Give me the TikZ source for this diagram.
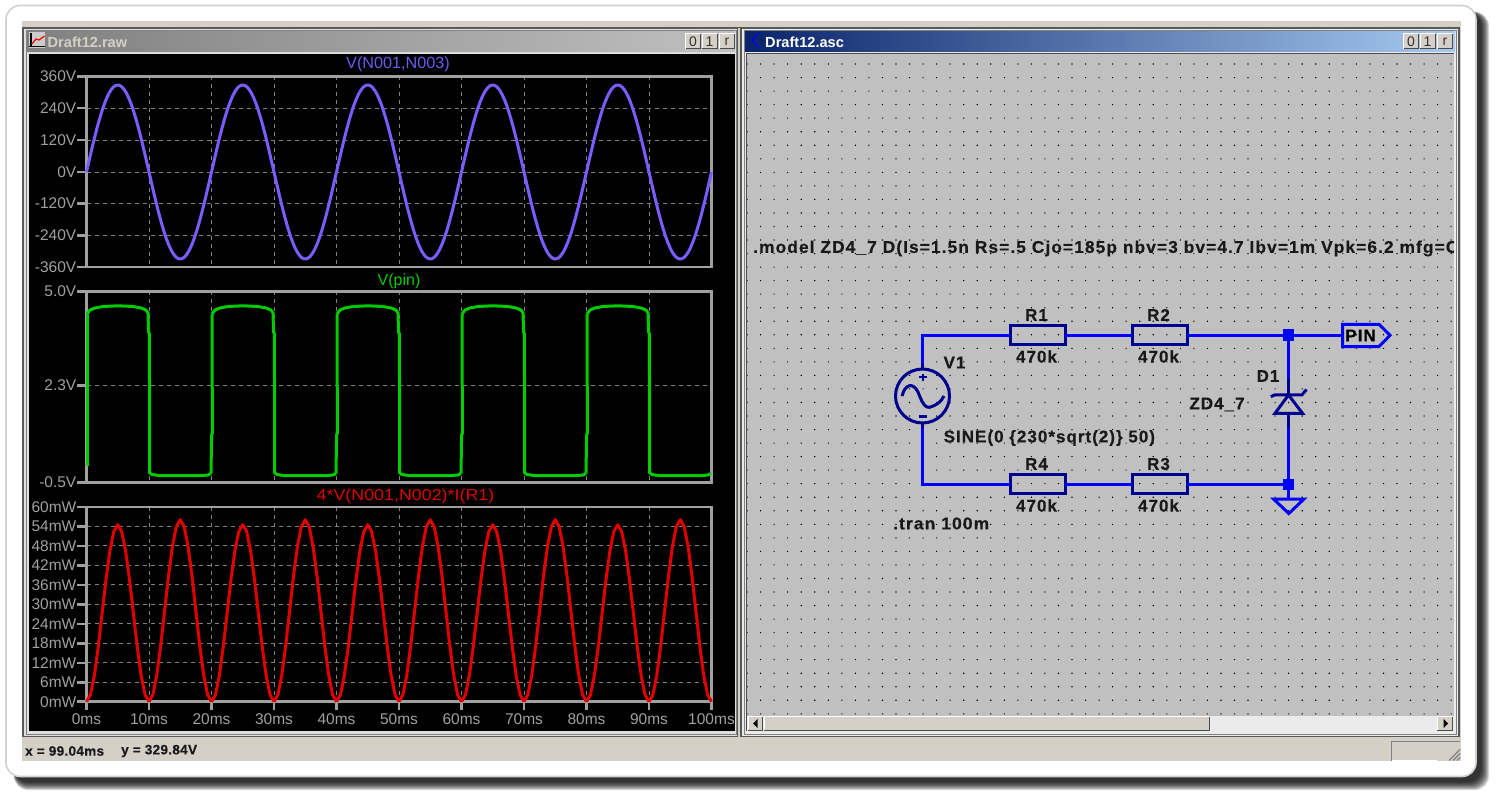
\documentclass[tikz,border=0pt]{standalone}
\usepackage{fontspec}
\usepackage{graphicx}
\setmainfont{Liberation Sans}
\newfontfamily\schem[LetterSpace=6,BoldFeatures={FakeBold=0.35}]{Liberation Sans}
\newfontfamily\statf[LetterSpace=2,BoldFeatures={FakeBold=0.25}]{Liberation Sans}
\usepackage{tikz}
\definecolor{beige}{HTML}{D4D0C8}
\definecolor{plotgray}{HTML}{A0A0A0}
\definecolor{gridgray}{HTML}{808080}
\definecolor{navy}{HTML}{000090}
\definecolor{wireblue}{HTML}{0000FF}
\definecolor{cpurple}{HTML}{7B5CFF}
\definecolor{tpurple}{HTML}{6A5CF0}
\definecolor{cgreen}{HTML}{00CC00}
\definecolor{cred}{HTML}{E00000}
\definecolor{cgrayc}{HTML}{C0C0C0}
\tikzset{
 x=1pt,y=-1pt,
 axlab/.style={text=plotgray,font=\fontsize{15.5}{16}\selectfont,inner sep=0pt},
 axl/.style={axlab,anchor=east},
 frameline/.style={draw=plotgray,line width=2.6pt},
 gridl/.style={draw=gridgray,line width=0.9pt,dash pattern=on 4pt off 4pt},
 trace/.style={line width=3pt,line join=round},
 wire/.style={draw=wireblue,line width=3pt},
 sym/.style={draw=navy,line width=3pt,line join=miter},
 resbox/.style={sym,fill=none,minimum width=55pt,minimum height=19.5pt,inner sep=0pt,outer sep=0pt},
 sch/.style={font=\fontsize{17}{18}\selectfont\schem\bfseries,text=black!90,inner sep=0pt},
 junc/.style={fill=wireblue,minimum size=11pt,inner sep=0pt,outer sep=0pt},
 winbtn/.style={fill=beige,draw=none,minimum width=15pt,minimum height=15pt,inner sep=0pt},
 tbt/.style={font=\bfseries\fontsize{14.6}{15}\selectfont,inner sep=0pt,anchor=west},
 stat/.style={font=\fontsize{13.6}{14}\selectfont\statf\bfseries,inner sep=0pt,anchor=west,text=black!90},
}
\newcommand{\btn}[3]{%
 \node[winbtn] (#3) at (#1,41.5) {};
 \draw[white,line width=1pt] (#1-7.5,49) -- (#1-7.5,34) -- (#1+7.5,34);
 \draw[black!70,line width=1pt] (#1-7.5,49) -- (#1+7.5,49) -- (#1+7.5,34);
 \node[inner sep=0pt,text=black!80] at (#1,41.5) {\fontsize{14}{14}\selectfont\rmfamily #2};
}
\begin{document}
\begin{tikzpicture}
\useasboundingbox (0,0) rectangle (1498,799);
\fill[white] (0,0) rectangle (1498,799);
% drop shadow
\foreach \r in {8,7,...,0}{
 \fill[black,opacity=0.16,rounded corners=14pt] (14,12) rectangle (1481+\r,782+\r);
}
% card
\fill[white,draw=black!18,line width=1.6pt,rounded corners=14pt] (6,5.5) rectangle (1476,776.5);
% application body
\fill[beige] (21.5,21.5) rectangle (1460.5,761);
\draw[black!70,line width=1pt] (22,28) -- (1459.5,28);
% left window frame
\fill[black!65] (22,27.5) rectangle (738,737);
\fill[black!12] (24,29) rectangle (737,736);
\draw[gridgray,line width=1pt] (26,31) rectangle (736,734.5);
\fill[black] (29,54) rectangle (735,731);
\shade[left color=gridgray,right color=cgrayc] (27,32) rectangle (735,52);
\draw[white!85!black,line width=1pt] (27,52.8) -- (735,52.8);
% right window frame
\fill[black!65] (740,27.5) rectangle (1459.5,737);
\fill[black!8] (742,29) rectangle (1458,735.5);
\draw[gridgray,line width=1pt] (744,31) rectangle (1456.5,734);
\fill[cgrayc] (747,54) rectangle (1454,716);
\draw[black!70,line width=1pt] (746.5,731) -- (746.5,53.5) -- (1454,53.5);
\shade[left color={rgb,255:red,10;green,36;blue,106},right color={rgb,255:red,166;green,202;blue,240}] (745,32) rectangle (1455,52);
% title bar icons and texts
\fill[black!20] (28.5,32) rectangle (45,48);
\draw[black,line width=1.2pt] (31,33) -- (31,47) (29,46.5) -- (45,46.5);
\draw[red,line width=1.2pt] (32,44) -- (36,39) -- (39,40) -- (44.5,36);
\draw[blue,line width=1.1pt] (759,33) -- (753,38.5) -- (753,42) -- (759,47) (751,40) -- (753,40);
\node[tbt,text=beige] (ttlraw) at (47.5,42) {Draft12.raw};
\node[tbt,text=white] (ttlasc) at (765,42) {Draft12.asc};
\btn{693}{0}{bl0}
\btn{709.5}{1}{bl1}
\btn{727}{r}{bl2}
\btn{1411}{0}{br0}
\btn{1427.5}{1}{br1}
\btn{1445}{r}{br2}
% ---- plots ----
\foreach \yy in {108,140,172,203.5,235.5}{\draw[gridl] (86.5,\yy) -- (711.5,\yy);}
\draw[gridl] (86.5,385.5) -- (711.5,385.5);
\foreach \k in {1,...,9}{\draw[gridl] (86.5,701.7-19.5*\k) -- (711.5,701.7-19.5*\k);}
\foreach \k in {1,...,9}{
 \draw[gridl] (86.5+62.5*\k,76.5) -- (86.5+62.5*\k,267);
 \draw[gridl] (86.5+62.5*\k,291.5) -- (86.5+62.5*\k,482.3);
 \draw[gridl] (86.5+62.5*\k,507) -- (86.5+62.5*\k,701.7);
}
\draw[frameline] (86.5,76.5) rectangle (711.5,267);
\draw[frameline] (86.5,291.5) rectangle (711.5,482.3);
\draw[frameline] (86.5,507) rectangle (711.5,701.7);
% y ticks and labels
\foreach \yy/\t in {76.5/360V,108/240V,140/120V,172/0V,203.5/-120V,235.5/-240V,267/-360V,291.5/5.0V,385.5/2.3V,482.3/-0.5V,507/60mW,526.5/54mW,546/48mW,565.5/42mW,585/36mW,604.5/30mW,624/24mW,643.5/18mW,663/12mW,682.5/6mW,701.7/0mW}{
 \draw[plotgray,line width=2.6pt] (77,\yy) -- (86.5,\yy);
 \node[axl] at (76.5,\yy) {\t};
}
% x ticks and labels
\foreach \k in {0,...,10}{
 \pgfmathtruncatemacro{\lab}{\k*10}
 \draw[plotgray,line width=2.6pt] (86.5+62.5*\k,701.7) -- (86.5+62.5*\k,710);
 \node[axlab] at (86.5+62.5*\k,719.5) {\lab ms};
}
% titles
\node[inner sep=0pt,text=tpurple,font=\fontsize{16.2}{16}\selectfont] (t1) at (398,64.5) {V(N001,N003)};
\node[inner sep=0pt,text=cgreen,font=\fontsize{16}{16}\selectfont] (t2) at (399,281) {V(pin)};
\node[inner sep=0pt,text=cred,font=\fontsize{15.8}{16}\selectfont] (t3) at (405.5,496) {\scalebox{1.13}[1]{4*V(N001,N002)*I(R1)}};
% traces
\draw[cpurple,trace] plot[domain=86.5:711.5,samples=300] (\x,{172-87*sin(2.88*(\x-86.5))});
\foreach \k in {0,...,4}{
 \begin{scope}[shift={(125*\k,0)}]
 \draw[cgreen,trace] (87,314) -- (90,310) -- (95,308) -- (103,306.5) -- (118,305.8) -- (133,306.5) -- (141,308) -- (146,310) -- (148,313) -- (148.6,333) -- (149.4,333) -- (149.7,473) -- (152,474.5) -- (160,475.7) -- (200,475.7) -- (208,475) -- (211,473.5);
 \draw[cred,trace] plot[domain=86.5:149,samples=17] (\x,{701.7-177*sin(2.88*(\x-86.5))^2});
 \draw[cred,trace] plot[domain=149:211.5,samples=17] (\x,{701.7-182*sin(2.88*(\x-86.5))^2});
 \end{scope}
}
\draw[cgreen,trace] (87,466) -- (87,314);
\foreach \k in {0,...,3}{
 \draw[cgreen,trace] (211+125*\k,473.5) -- (211.6+125*\k,435) -- (212.4+125*\k,433) -- (212+125*\k,314);
}
% ---- schematic ----
\begin{scope}
\clip (747,54) rectangle (1454,716);
\fill[black] foreach \i in {0,...,52}{ foreach \j in {0,...,48}{
 (747+13.54*\i-0.5,64+13.537*\j-0.5) rectangle ++(1.1,1.1) }};
\node[sch,anchor=west] (model) at (753,248.5) {\scalebox{1.024}[1]{.model ZD4\_7 D(Is=1.5n Rs=.5 Cjo=185p nbv=3 bv=4.7 Ibv=1m Vpk=6.2 mfg=C}};
\end{scope}
\coordinate (tl) at (922.5,335);
\coordinate (bl) at (922.5,484);
\coordinate (vt) at (922.5,369);
\coordinate (vb) at (922.5,423);
\node[resbox] (R1) at (1037.5,335) {};
\node[resbox] (R2) at (1159.5,335) {};
\node[resbox] (R4) at (1037.5,484) {};
\node[resbox] (R3) at (1159.5,484) {};
\node[junc] (jt) at (1288.5,335) {};
\node[junc] (jb) at (1288.5,484) {};
\coordinate (pinL) at (1342.5,335);
\coordinate (dt) at (1288.5,378);
\coordinate (db) at (1288.5,428);
\coordinate (gnd) at (1288.5,499);
\draw[wire] (vt) -- (tl) -- (R1.west);
\draw[wire] (R1.east) -- (R2.west);
\draw[wire] (R2.east) -- (jt) -- (pinL);
\draw[wire] (vb) -- (bl) -- (R4.west);
\draw[wire] (R4.east) -- (R3.west);
\draw[wire] (R3.east) -- (jb) -- (gnd);
\draw[wire] (jt) -- (dt);
\draw[wire] (jb) -- (db);
% voltage source
\node[circle,sym,minimum size=54pt,inner sep=0pt,outer sep=0pt] (V1) at (922.5,396) {};
\draw[sym] (922.5,364) -- (922.5,369) (922.5,423) -- (922.5,428);
\draw[sym,line width=2pt] (918.5,377) -- (926.5,377) (922.5,373.5) -- (922.5,380.5);
\draw[sym,line width=2.4pt] (918.5,416.5) -- (926.5,416.5);
\draw[sym] (902,396) .. controls (905,384) and (913,382) .. (918,392) .. controls (922,402) and (925,410) .. (932,406.5) .. controls (937,404.5) and (941,402) .. (944,396);
% diode
\draw[sym] (1288.5,378) -- (1288.5,395) (1288.5,413.3) -- (1288.5,428);
\draw[sym] (1275,413.3) -- (1302.5,413.3) -- (1288.5,395) -- cycle;
\draw[sym] (1270.8,396.7) -- (1275,394.8) -- (1302,394.8) -- (1306.5,389.5);
% ground
\draw[wire,line join=miter] (1273.5,499) -- (1304,499) -- (1288.8,513.5) -- cycle;
% net label
\draw[wire] (1342.5,324.3) -- (1379,324.3) -- (1390,335.3) -- (1379,346.5) -- (1342.5,346.5) -- cycle;
\node[sch,text=black,anchor=center] (pin) at (1360.5,335.5) {PIN};
% schematic labels
\node[sch] (lR1) at (1036.5,315) {R1};
\node[sch] (lR2) at (1158.5,315) {R2};
\node[sch] (lR4) at (1036.5,464) {R4};
\node[sch] (lR3) at (1158.5,464) {R3};
\node[sch] (v1a) at (1036.5,356.5) {470k};
\node[sch] (v2a) at (1158.5,356.5) {470k};
\node[sch] (v4a) at (1036.5,505.5) {470k};
\node[sch] (v3a) at (1158.5,505.5) {470k};
\node[sch] (lV1) at (954.5,362.5) {V1};
\node[sch,anchor=west] (sine) at (943.5,438) {SINE(0 \{230*sqrt(2)\} 50)};
\node[sch,anchor=west] (tran) at (893,523.5) {\scalebox{1.03}[1]{.tran 100m}};
\node[sch] (lD1) at (1268,376) {D1};
\node[sch] (lZD) at (1217,404.5) {ZD4\_7};
% scroll bar
\fill[black!8] (747,716) rectangle (1454,731);
\fill[beige] (764,717) rectangle (1209,730.5);
\draw[white,line width=1pt] (764,730.5) -- (764,716.5) -- (1209,716.5);
\draw[black!70,line width=1pt] (764,730.5) -- (1209,730.5) -- (1209,716.5);
\fill[beige] (749,717) rectangle (762,730);
\draw[white,line width=1pt] (748,730.5) -- (748,716.5) -- (762,716.5);
\draw[black!70,line width=1pt] (748,730.5) -- (762,730.5) -- (762,716.5);
\fill[black] (753,723.5) -- (757.5,719) -- (757.5,728) -- cycle;
\fill[beige] (1437.5,717) rectangle (1451.5,730);
\draw[white,line width=1pt] (1437,730.5) -- (1437,716.5) -- (1452,716.5);
\draw[black!70,line width=1pt] (1437,730.5) -- (1452,730.5) -- (1452,716.5);
\fill[black] (1448,723.5) -- (1443.5,719) -- (1443.5,728) -- cycle;
% status bar
\fill[beige] (21.5,737.5) rectangle (1460.5,761);
\node[stat] (sx) at (25,751) {x = 99.04ms};
\node[stat] (sy) at (121,751) {y = 329.84V};
\draw[gridgray,line width=1pt] (1391.5,761) -- (1391.5,741.5) -- (1460,741.5);
\draw[white,line width=1pt] (1391.5,760.5) -- (1437,760.5);
\foreach \d in {0,4,8}{\draw[gridgray,line width=1.2pt] (1449+\d,760.5) -- (1460,749.5+\d);}
\end{tikzpicture}
\end{document}
